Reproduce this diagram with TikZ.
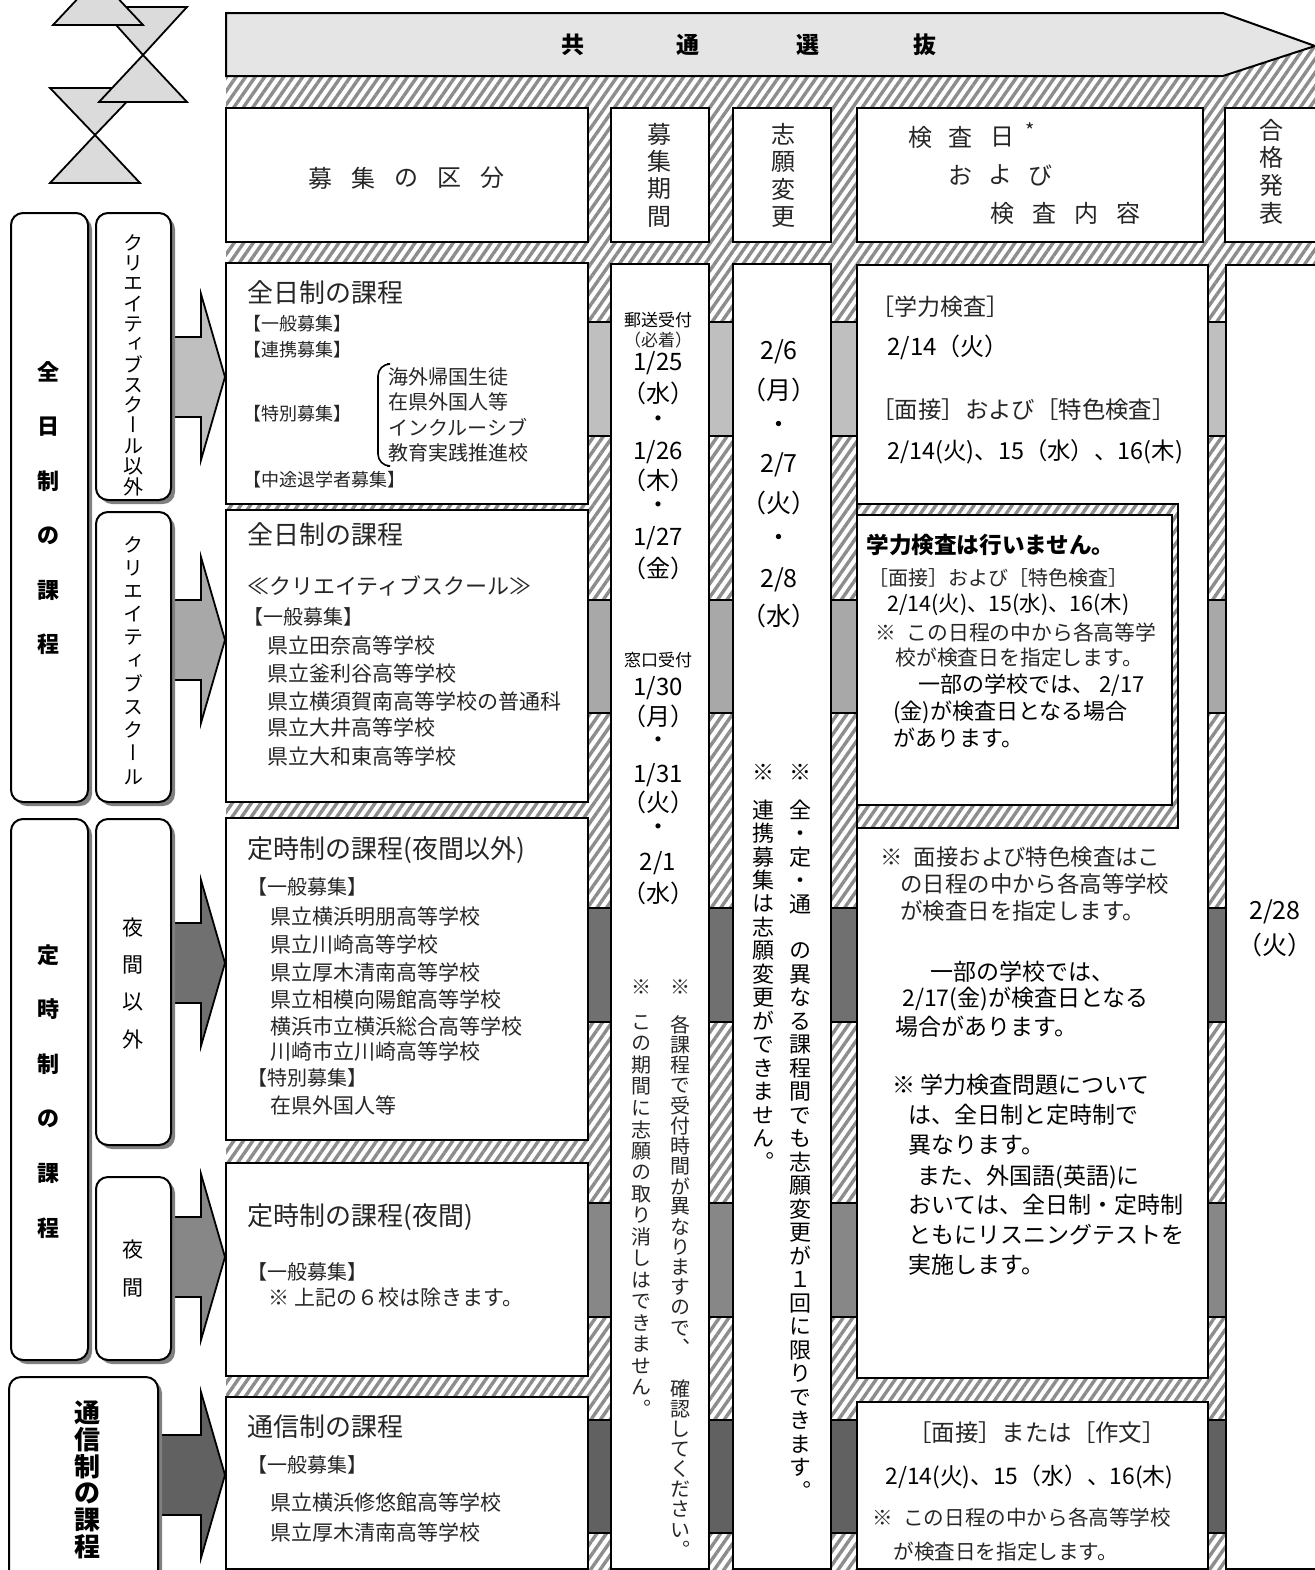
\documentclass[tikz,border=0pt]{standalone}
\usepackage{fontspec}
\setmainfont{Noto Sans CJK JP}
\newfontfamily\vt{Noto Sans CJK JP}[RawFeature=+vert]
\usetikzlibrary{patterns.meta}
\newcommand\fs[1]{\fontsize{#1pt}{#1pt}\selectfont}
\tikzset{
  box/.style={draw, line width=1pt, fill=white},
  hatch/.style={pattern={Lines[angle=55,distance=3.9pt,line width=1.7pt]}, pattern color=black!45},
  band/.style={draw, line width=0.7pt},
  lblbox/.style={draw, line width=1pt, fill=white, rounded corners=6pt},
  lblshade/.style={fill=black!50, rounded corners=6pt},
  tri/.style={draw, line width=0.9pt, fill=black!14},
  blk/.style={draw, line width=0.9pt},
  tl/.style={anchor=west, inner sep=0pt},
  tc/.style={inner sep=0pt},
  mc/.style={text=black!85},
}
% one character per line, top to bottom
\newcommand\vcol[6]{%
  \foreach \ch [count=\i from 0] in {#6}
    \node[tc, #5] (#1\i) at (#2, {#3+#4*\i}) {\vphantom{国}\ch};}
\begin{document}
\begin{tikzpicture}[x=0.5pt, y=-0.5pt]
\useasboundingbox (0,0) rectangle (1315,1570);

% hatched ground
\fill[hatch] (226,46) rectangle (1315,1570);

% title arrow
\draw[fill=black!10, line width=1pt] (226,13) -- (1223,13) -- (1315,46) -- (1223,76) -- (226,76) -- cycle;
\foreach \x/\c [count=\i] in {573/共,688/通,808/選,925/抜}
  \node[tc, font=\bfseries\fs{11.5}] (ttl\i) at (\x,45) {\c};

% bands behind the columns
\foreach \t/\b/\g [count=\i] in {322/436/25, 600/713/34, 908/1022/56, 1203/1317/47, 1420/1533/62}
  \draw[band, fill=black!\g] (226,\t) rectangle (1320,\b);

% head row
\draw[box] (226,108) rectangle (588,242);
\foreach \c [count=\i from 0] in {募,集,の,区,分}
  \node[tc, mc, font=\fs{12}] (hd\i) at ({320+43*\i},178) {\c};
\draw[box] (611,108) rectangle (709,242);
\vcol{hp}{659}{134}{27.5}{mc, font=\fs{12}}{募,集,期,間}
\draw[box] (733,108) rectangle (831,242);
\vcol{hc}{783}{134}{27.5}{mc, font=\fs{12}}{志,願,変,更}
\draw[box] (857,108) rectangle (1203,242);
\foreach \x/\c [count=\i] in {920/検,960/査,1002/日}
  \node[tc, mc, font=\fs{12}] (ka\i) at (\x,137) {\c};
\node[tc, mc, font=\fs{10}] (kstar) at (1030,131) {*};
\foreach \x/\c [count=\i] in {960/お,1000/よ,1040/び}
  \node[tc, mc, font=\fs{12}] (kb\i) at (\x,175) {\c};
\foreach \x/\c [count=\i] in {1002/検,1044/査,1086/内,1128/容}
  \node[tc, mc, font=\fs{12}] (kc\i) at (\x,213) {\c};
\draw[box] (1225,108) rectangle (1320,242);
\vcol{hg}{1271}{130}{27.7}{mc, font=\fs{12}}{合,格,発,表}

% body boxes
\draw[box] (226,263) rectangle (588,504);
\draw[box] (226,510) rectangle (588,802);
\draw[box] (226,818) rectangle (588,1140);
\draw[box] (226,1163) rectangle (588,1376);
\draw[box] (226,1397) rectangle (588,1569);
\draw[box] (611,264) rectangle (709,1569);
\draw[box] (733,264) rectangle (831,1569);
\draw[box] (857,265) rectangle (1208,1378);
\draw[box] (857,1402) rectangle (1208,1569);
\draw[box] (1226,265) rectangle (1320,1569);
\fill[white] (857,504) rectangle (1178,828);
\fill[hatch] (857,504) rectangle (1178,828);
\draw[line width=0.6pt] (857,504) rectangle (1178,828);
\draw[box] (857,515) rectangle (1172,805);

% course boxes
\node[tl, mc, font=\fs{13}] (z1) at (247,293) {全日制の課程};
\node[tl, mc, font=\fs{9}] (z1a) at (243,324) {【一般募集】};
\node[tl, mc, font=\fs{9}] (z1b) at (243,350) {【連携募集】};
\node[tl, mc, font=\fs{9}] (z1c) at (243,414) {【特別募集】};
\draw[line width=0.8pt, rounded corners=6pt] (387,364) -- (378,364) -- (378,466) -- (387,466);
\foreach \y/\t [count=\i] in {377/海外帰国生徒, 402/在県外国人等, 427/インクルーシブ, 453/教育実践推進校}
  \node[tl, mc, font=\fs{10}] (z1s\i) at (388,\y) {\t};
\node[tl, mc, font=\fs{9}] (z1d) at (243,480) {【中途退学者募集】};

\node[tl, mc, font=\fs{13}] (z2) at (247,535) {全日制の課程};
\node[tl, mc, font=\fs{11}] (z2a) at (247,586) {≪クリエイティブスクール≫};
\node[tl, mc, font=\fs{10}] (z2b) at (243,617) {【一般募集】};
\foreach \y/\t [count=\i] in {645/県立田奈高等学校, 673/県立釜利谷高等学校, 701/県立横須賀南高等学校の普通科, 728/県立大井高等学校, 756/県立大和東高等学校}
  \node[tl, mc, font=\fs{10.5}] (z2s\i) at (267,\y) {\t};

\node[tl, mc, font=\fs{13}] (t1) at (247,850) {定時制の課程(夜間以外)};
\node[tl, mc, font=\fs{10}] (t1a) at (247,887) {【一般募集】};
\foreach \y/\t [count=\i] in {917/県立横浜明朋高等学校, 945/県立川崎高等学校, 972/県立厚木清南高等学校, 999/県立相模向陽館高等学校, 1026/横浜市立横浜総合高等学校, 1052/川崎市立川崎高等学校}
  \node[tl, mc, font=\fs{10.5}] (t1s\i) at (270,\y) {\t};
\node[tl, mc, font=\fs{10}] (t1b) at (247,1078) {【特別募集】};
\node[tl, mc, font=\fs{10.5}] (t1c) at (270,1105) {在県外国人等};

\node[tl, mc, font=\fs{13}] (t2) at (247,1217) {定時制の課程(夜間)};
\node[tl, mc, font=\fs{10}] (t2a) at (247,1272) {【一般募集】};
\node[tl, mc, font=\fs{10.5}] (t2b) at (268,1298) {※ 上記の６校は除きます。};

\node[tl, mc, font=\fs{13}] (s1) at (247,1427) {通信制の課程};
\node[tl, mc, font=\fs{10}] (s1a) at (247,1465) {【一般募集】};
\node[tl, mc, font=\fs{10.5}] (s1b) at (270,1502) {県立横浜修悠館高等学校};
\node[tl, mc, font=\fs{10.5}] (s1c) at (270,1532) {県立厚木清南高等学校};

% application period
\node[tc, font=\fs{8.5}] (post) at (658,320) {郵送受付};
\node[tc, mc, font=\fs{8.5}] (post2) at (658,340) {（必着）};
\node[tc, font=\fs{8.5}] (desk) at (658,660) {窓口受付};
\foreach \y/\t [count=\i] in {363/{1/25},393/（水）,422/・,452/{1/26},480/（木）,508/・,538/{1/27},568/（金）,688/{1/30},716/（月）,743/・,775/{1/31},802/（火）,830/・,863/{2/1},893/（水）}
  \node[tc, font=\fs{12}] (pd\i) at (658,\y) {\t};
\node[tc, mc, font=\fs{10}] (pn1) at (680,987) {※};
\node[tc, mc, font=\fs{10}] (pn2) at (641,987) {※};
\vcol{pa}{680}{1025}{20.2}{mc, font=\vt\fs{10}}{各,課,程,で,受,付,時,間,が,異,な,り,ま,す,の,で,、,{},確,認,し,て,く,だ,さ,い,。}
\vcol{pb}{641}{1022}{21.5}{mc, font=\vt\fs{10}}{こ,の,期,間,に,志,願,の,取,り,消,し,は,で,き,ま,せ,ん,。}

% change of choice
\foreach \y/\t [count=\i] in {352/{2/6},390/（月）,427/・,465/{2/7},503/（火）,540/・,580/{2/8},616/（水）}
  \node[tc, font=\fs{12.5}] (cd\i) at (779,\y) {\t};
\node[tc, font=\fs{11}] (cn1) at (800,772) {※};
\node[tc, font=\fs{11}] (cn2) at (763,772) {※};
\vcol{ca}{800}{810}{23.5}{font=\vt\fs{11}}{全,・,定,・,通,{},の,異,な,る,課,程,間,で,も,志,願,変,更,が,１,回,に,限,り,で,き,ま,す,。}
\vcol{cb}{763}{810}{23.5}{font=\vt\fs{11}}{連,携,募,集,は,志,願,変,更,が,で,き,ま,せ,ん,。}

% exam days
\node[tl, mc, font=\fs{11.5}] (ea1) at (871,307) {［学力検査］};
\node[tl, font=\fs{12}] (ea2) at (887,347) {2/14（火）};
\node[tl, mc, font=\fs{11.7}] (ea3) at (871,410) {［面接］および［特色検査］};
\node[tl, font=\fs{11.7}] (ea4) at (887,452) {2/14(火)、15（水）、16(木)};

\node[tl, font=\bfseries\fs{11.3}] (eb1) at (866,545) {学力検査は行いません。};
\node[tl, mc, font=\fs{10}] (eb2) at (868,578) {［面接］および［特色検査］};
\node[tl, font=\fs{10.7}] (eb3) at (887,605) {2/14(火)、15(水)、16(木)};
\node[tl, mc, font=\fs{10.4}] (eb4) at (875,633) {※\enskip この日程の中から各高等学};
\node[tl, mc, font=\fs{10.4}] (eb5) at (895,658) {校が検査日を指定します。};
\node[tl, font=\fs{11}] (eb6) at (918,685) {一部の学校では、 2/17};
\node[tl, font=\fs{11}] (eb7) at (893,712) {(金)が検査日となる場合};
\node[tl, font=\fs{11}] (eb8) at (893,738) {があります。};

\node[tl, mc, font=\fs{11.2}] (ec1) at (880,857) {※\enskip 面接および特色検査はこ};
\node[tl, mc, font=\fs{11.2}] (ec2) at (900,884) {の日程の中から各高等学校};
\node[tl, mc, font=\fs{11.2}] (ec3) at (900,911) {が検査日を指定します。};
\node[tl, font=\fs{11.5}] (ec4) at (930,972) {一部の学校では、};
\node[tl, font=\fs{11.5}] (ec5) at (902,999) {2/17(金)が検査日となる};
\node[tl, font=\fs{11.5}] (ec6) at (895,1027) {場合があります。};
\node[tl, font=\fs{11.5}] (ec7) at (892,1085) {※ 学力検査問題について};
\foreach \y/\x/\t [count=\i] in {1115/908/は、全日制と定時制で, 1145/908/異なります。, 1177/917/また、外国語(英語)に, 1205/908/おいては、全日制・定時制, 1235/908/ともにリスニングテストを, 1265/908/実施します。}
  \node[tl, font=\fs{11.5}] (ecs\i) at (\x,\y) {\t};

\node[tc, mc, font=\fs{11.7}] (ed1) at (1037,1433) {［面接］または［作文］};
\node[tl, font=\fs{11.4}] (ed2) at (885,1477) {2/14(火)、15（水）、16(木)};
\node[tl, mc, font=\fs{10.3}] (ed3) at (872,1518) {※\enskip この日程の中から各高等学校};
\node[tl, mc, font=\fs{10.3}] (ed4) at (893,1552) {が検査日を指定します。};

% pass
\node[tc, font=\fs{12.5}] (ps1) at (1275,912) {2/28};
\node[tc, font=\fs{12.5}] (ps2) at (1275,945) {（火）};

% arrows from the courses
\foreach \xs/\t/\g [count=\i] in {170/377/25, 170/640/34, 170/963/56, 170/1257/47, 150/1475/62}
  \draw[blk, fill=black!\g] (\xs,\t-40) -- (201,\t-40) -- (201,\t-83) -- (225,\t) -- (201,\t+83) -- (201,\t+40) -- (\xs,\t+40) -- cycle;

% course labels
\foreach \a/\b/\c/\d [count=\i] in {11/213/88/802, 96/213/171/500, 96/512/171/802, 11/819/88/1360, 96/819/171/1145, 96/1177/171/1360, 9/1377/158/1600} {
  \fill[lblshade] (\a+4,\b+4) rectangle (\c+4,\d+4);
  \draw[lblbox] (\a,\b) rectangle (\c,\d);
}
\vcol{zen}{49}{372}{54.5}{font=\bfseries\fs{11}}{全,日,制,の,課,程}
\vcol{cre}{133}{243}{20.3}{font=\vt\fs{10}}{ク,リ,エ,イ,テ,ィ,ブ,ス,ク,ー,ル,以,外}
\vcol{crs}{133}{545}{23.2}{font=\vt\fs{10}}{ク,リ,エ,イ,テ,ィ,ブ,ス,ク,ー,ル}
\vcol{tei}{49}{955}{54.6}{font=\bfseries\fs{11}}{定,時,制,の,課,程}
\vcol{yae}{133}{928}{37}{font=\fs{10.5}}{夜,間,以,外}
\vcol{yak}{133}{1250}{38}{font=\fs{10.5}}{夜,間}
\vcol{tsu}{87}{1413}{26.8}{font=\bfseries\fs{13}}{通,信,制,の,課,程}

% corner mark
\draw[tri] (100,7) -- (187,7) -- (143,55) -- cycle;
\draw[tri] (53,25) -- (143,25) -- (98,-23) -- cycle;
\draw[tri] (50,88) -- (140,88) -- (95,135) -- cycle;
\draw[tri] (143,55) -- (187,102) -- (99,102) -- cycle;
\draw[tri] (95,135) -- (140,183) -- (50,183) -- cycle;
\end{tikzpicture}
\end{document}
